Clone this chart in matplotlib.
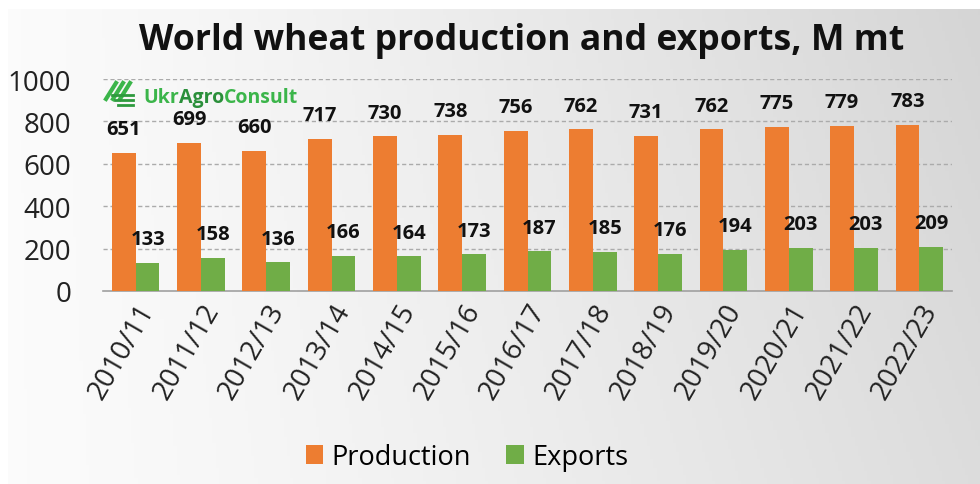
import numpy as np
import matplotlib.pyplot as plt
from matplotlib.lines import Line2D

plt.rcParams['font.family'] = ['Open Sans', 'DejaVu Sans']

# data
seasons = ['2010/11', '2011/12', '2012/13', '2013/14', '2014/15', '2015/16', '2016/17',
           '2017/18', '2018/19', '2019/20', '2020/21', '2021/22', '2022/23']
production = [651, 699, 660, 717, 730, 738, 756, 762, 731, 762, 775, 779, 783]
exports = [133, 158, 136, 166, 164, 173, 187, 185, 176, 194, 203, 203, 209]
yticks = [0, 200, 400, 600, 800, 1000]

orange = '#ED7D31'
green = '#70AD47'

fig = plt.figure(figsize=(9.8, 4.85), dpi=100)
fig.patch.set_facecolor('white')

# grey gradient background panel
bg = fig.add_axes([8 / 980, 0, 972 / 980, 475 / 485], zorder=-5)
gx = np.linspace(0, 1, 300)
gy = np.linspace(0, 1, 150)
X, Y = np.meshgrid(gx, gy)
shade = 0.985 - 0.12 * X ** 1.3 - 0.03 * Y * X
bg.imshow(np.dstack([shade] * 3), aspect='auto', extent=[0, 1, 0, 1], origin='lower')
bg.axis('off')

ax = fig.add_axes([103 / 980, (485 - 292) / 485, 849 / 980, 212 / 485])
ax.set_facecolor('none')

x = np.arange(len(seasons))
w = 0.365
b1 = ax.bar(x - w / 2, production, w, color=orange, label='Production', zorder=3)
b2 = ax.bar(x + w / 2, exports, w, color=green, label='Exports', zorder=3)

for bars, vals in [(b1, production), (b2, exports)]:
    for r, v in zip(bars, vals):
        ax.annotate(str(v), (r.get_x() + r.get_width() / 2, v), xytext=(0, 17),
                    textcoords='offset points', ha='center', va='center',
                    fontsize=14.5, fontweight='bold', color='#111111', zorder=4)

ax.set_xlim(-0.5, len(seasons) - 0.5)
ax.set_ylim(0, 1000)
ax.set_yticks(yticks)
ax.set_yticklabels([str(t) for t in yticks], fontsize=20, color='#222222')
ax.set_xticks(x)
ax.set_xticklabels(seasons, rotation=60, ha='right', rotation_mode='anchor',
                   fontsize=20, color='#222222')
ax.tick_params(axis='both', length=0)
ax.tick_params(axis='y', pad=23)
ax.tick_params(axis='x', pad=5)
for yv in yticks[1:]:
    ax.axhline(yv, color='#ababab', lw=1, ls=(0, (3, 2)), zorder=1)
for s in ['top', 'right', 'left']:
    ax.spines[s].set_visible(False)
ax.spines['bottom'].set_color('#a0a0a0')
ax.spines['bottom'].set_linewidth(1.2)

fig.text(522 / 980, 1 - 41 / 485, 'World wheat production and exports, M mt',
         ha='center', va='center', fontsize=25.7, fontweight='bold', color='#111111')

# logo
logo_c = '#3bb54a'
for i in range(3):
    fig.add_artist(Line2D([(106 + 7 * i) / 980, (116 + 7 * i) / 980],
                          [1 - 100 / 485, 1 - 84 / 485], color=logo_c, lw=3))
for i in range(3):
    fig.add_artist(Line2D([(112 + 3 * i) / 980, 133 / 980],
                          [1 - (96 + 5 * i) / 485, 1 - (96 + 5 * i) / 485], color='#2e9a3e', lw=2))

renderer = fig.canvas.get_renderer()
xpos = 143
for part, c in [('Ukr', logo_c), ('Agro', '#2a8f3a'), ('Consult', logo_c)]:
    t = fig.text(xpos / 980, 1 - 98 / 485, part, ha='left', va='center', fontsize=14,
                 fontweight='bold', color=c)
    xpos = t.get_window_extent(renderer).x1

fig.legend(handles=[b1, b2], loc='center', bbox_to_anchor=(467 / 980, 1 - 458 / 485),
           ncol=2, frameon=False, fontsize=19.5, handlelength=0.65, handleheight=0.65,
           handletextpad=0.3, columnspacing=1.3)

fig.savefig('out.png', dpi=100)
